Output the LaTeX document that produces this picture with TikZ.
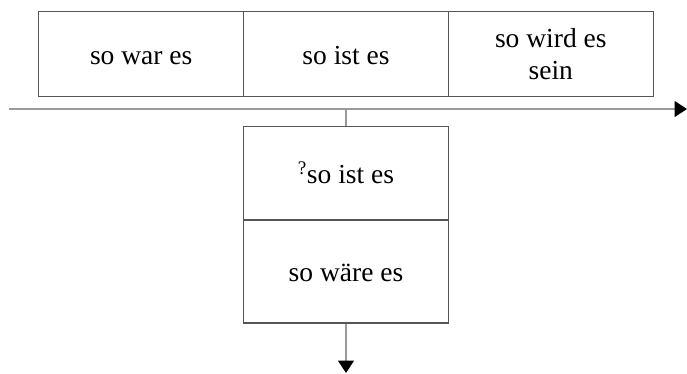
\documentclass[tikz,border=0pt]{standalone}
\usepackage{fontspec}
\setmainfont{Liberation Serif}
\usetikzlibrary{arrows.meta}
\definecolor{boxline}{HTML}{555555}
\definecolor{axisline}{HTML}{9A9A9A}
\begin{document}
\begin{tikzpicture}[x=1pt,y=-1pt,
  cell/.style={draw=boxline,line width=1.3pt,inner sep=0pt,minimum width=204.8pt,
    align=center,font=\fontsize{27.5}{32}\selectfont,text=black},
  oneline/.style={text height=22pt,text depth=2pt},
  axisstyle/.style={draw=axisline,line width=1.3pt,-{Triangle[length=12.5pt,width=16pt,fill=black,color=black]}},
  tickstyle/.style={draw=axisline,line width=1.3pt}]
\useasboundingbox (0,0) rectangle (687,373);
\node[cell,oneline,minimum height=85pt] (past) at (141.2,54) {so war es};
\node[cell,oneline,minimum height=85pt] (pres) at (346,54) {so ist es};
\node[cell,minimum height=85pt] (fut) at (550.8,54) {so wird es\\sein};
\node[cell,oneline,minimum height=93.5pt] (qpres) at (346,173.25) {\textsuperscript{?}so ist es};
\node[cell,oneline,minimum height=103pt] (cond) at (346,271.5) {so wäre es};
\coordinate (axstart) at (9,109);
\coordinate (axend) at (687,109);
\coordinate (tick) at (346,109);
\coordinate (down) at (346,373);
\draw[axisstyle] (axstart) -- (axend);
\draw[tickstyle] (tick) -- (qpres.north);
\draw[axisstyle] (cond.south) -- (down);
\end{tikzpicture}
\end{document}
